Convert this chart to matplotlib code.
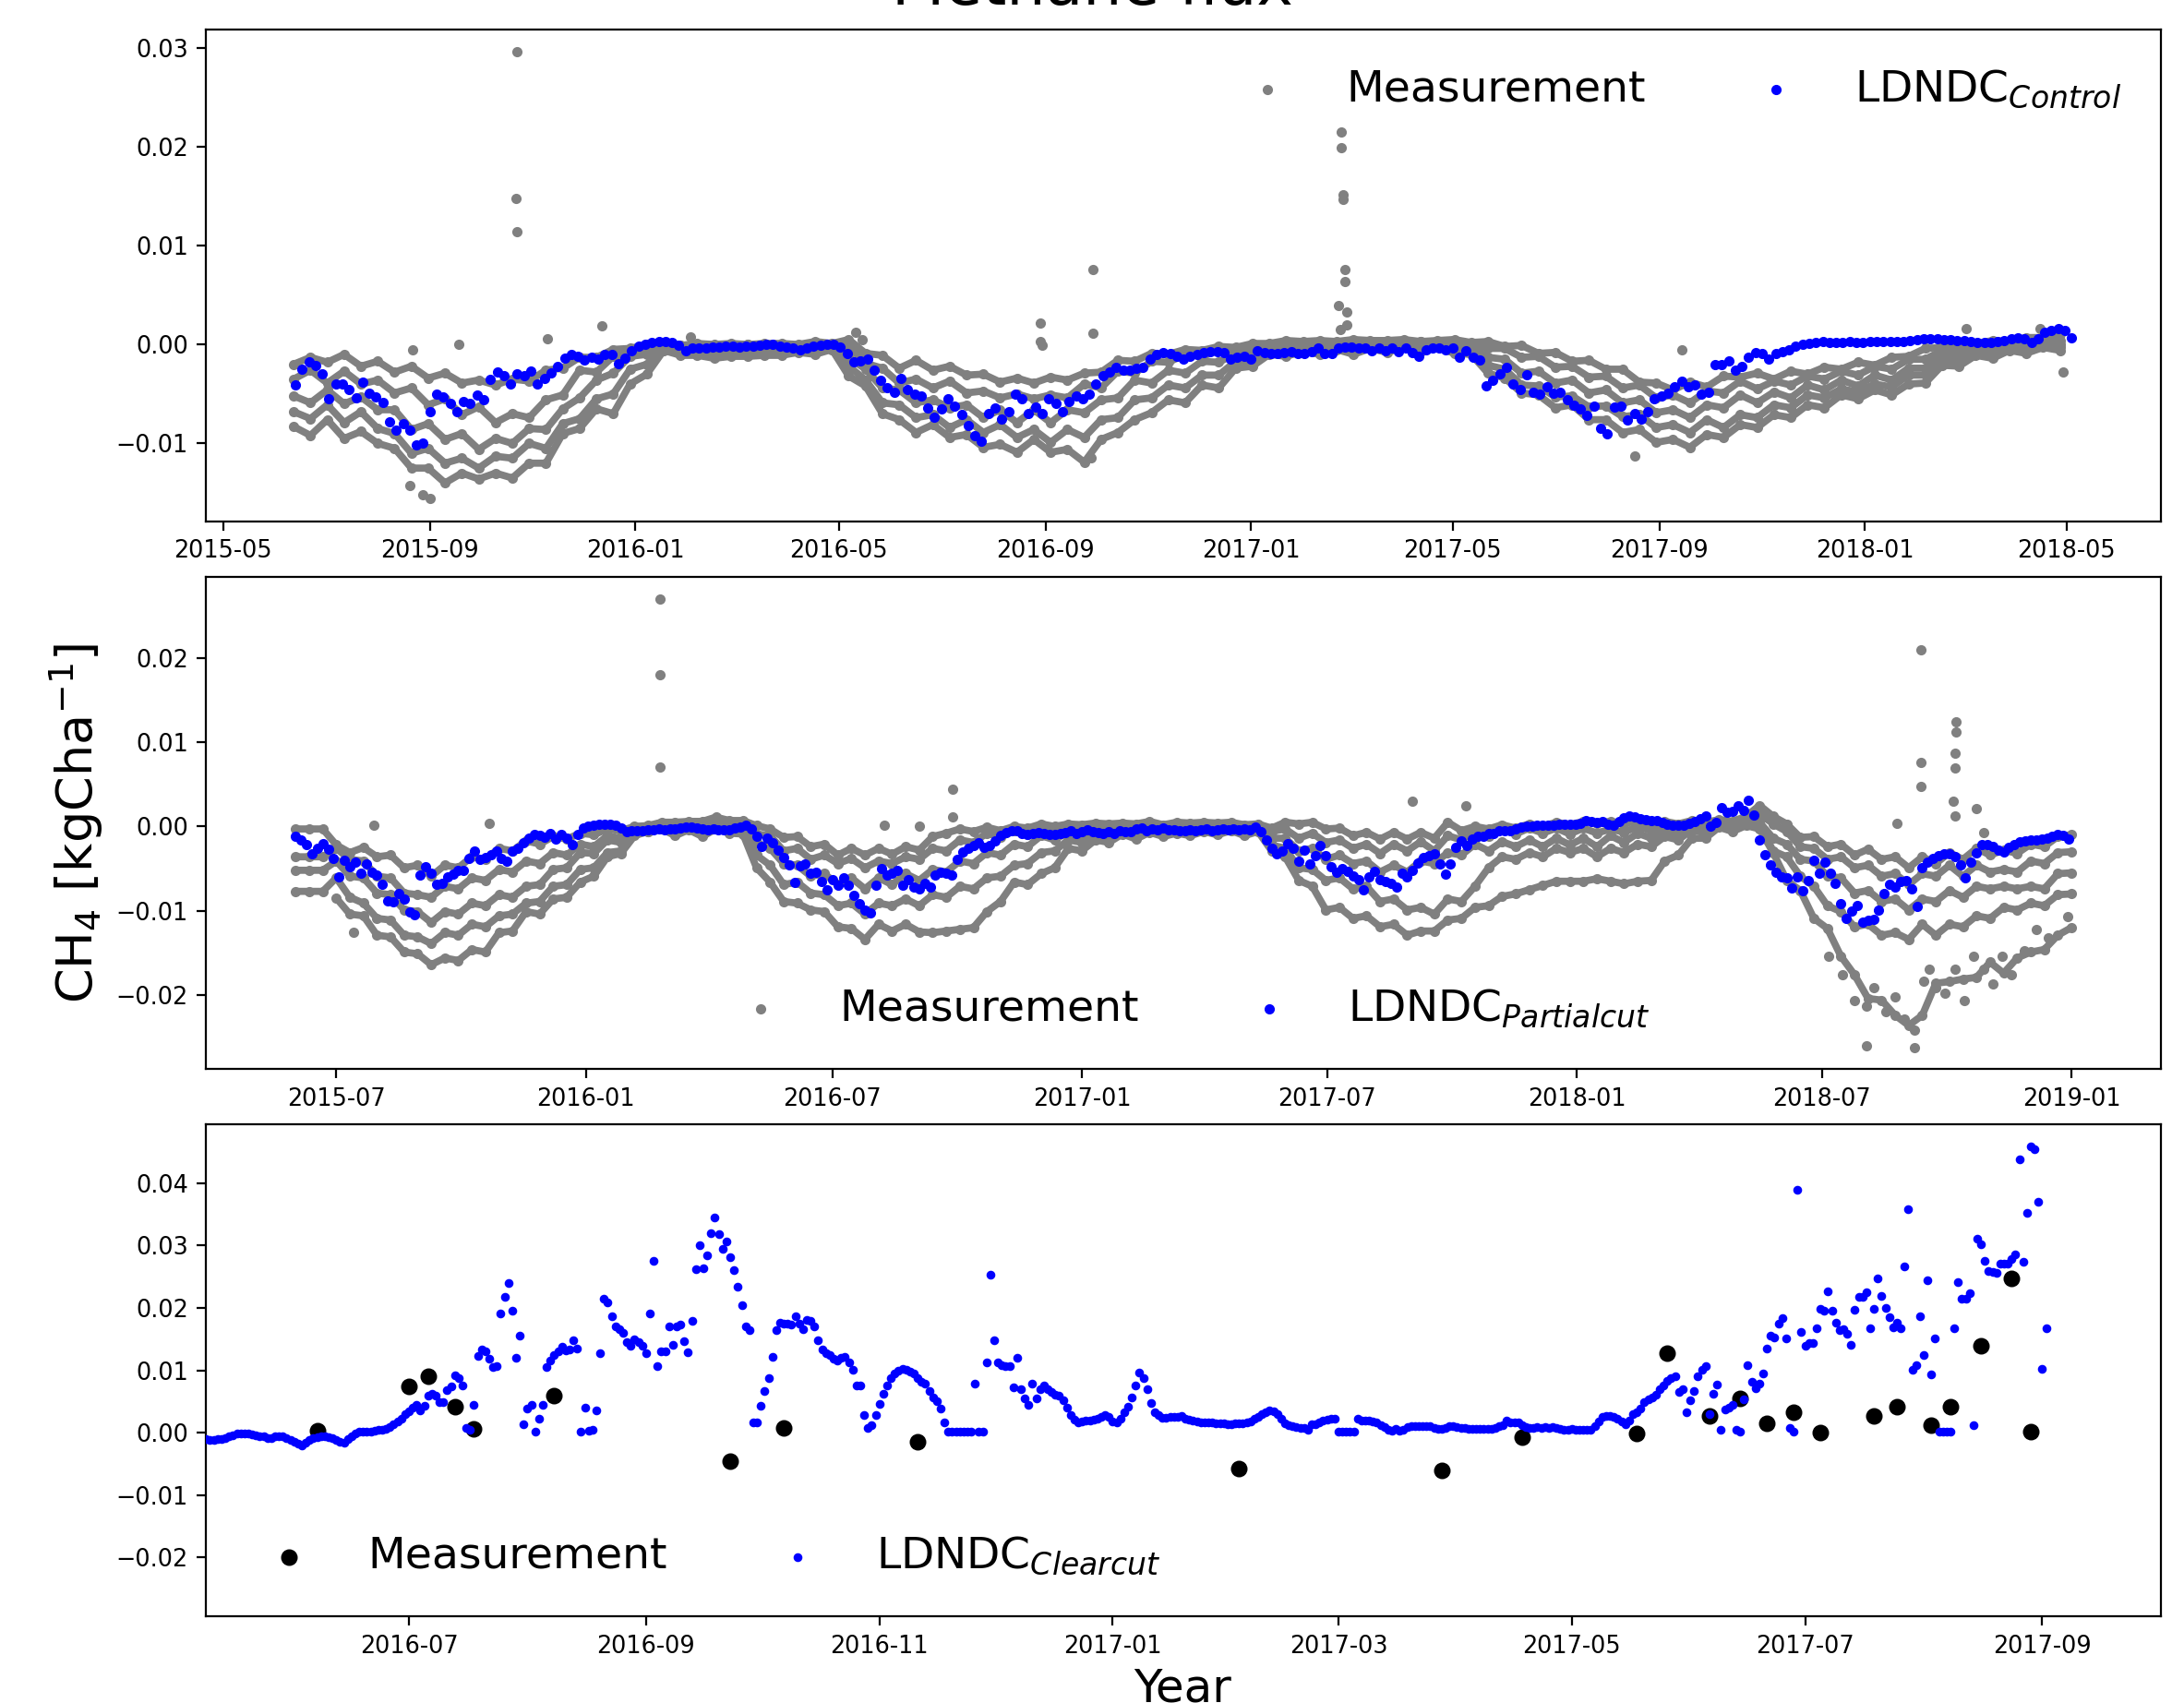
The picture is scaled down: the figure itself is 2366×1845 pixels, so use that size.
import numpy as np
import pandas as pd
import matplotlib
matplotlib.use('Agg')
import matplotlib.pyplot as plt
import matplotlib.dates as mdates
from matplotlib.ticker import MultipleLocator

# all fluxes below are written in g C/ha and drawn in kg C/ha

# ---------------- Control site ----------------
ctrl_model_start = '2015-06-13'   # every 4 days
ctrl_model = [
    -4.1, -2.5, -1.8, -2.1, -3.0, -5.5, -4.0, -4.0, -4.6, -5.4,
    -3.8, -4.9, -5.3, -5.9, -7.8, -8.7, -8.0, -8.7, -10.2, -10.0,
    -6.8, -5.0, -5.3, -6.0, -6.8, -5.8, -6.0, -5.1, -5.6, -3.5,
    -2.8, -3.2, -4.0, -3.0, -3.2, -2.7, -4.0, -3.4, -2.9, -2.2,
    -1.4, -1.0, -1.2, -1.6, -1.3, -1.5, -1.0, -1.0, -1.9, -1.4,
    -0.6, -0.2, 0.0, 0.2, 0.3, 0.3, 0.2, -0.1, -0.6, -0.4,
    -0.4, -0.4, -0.3, -0.3, -0.2, -0.2, -0.3, -0.2, -0.2, -0.1,
    0.0, 0.0, -0.2, -0.3, -0.4, -0.5, -0.4, -0.2, -0.1, 0.0,
    0.0, -0.3, -0.9, -1.8, -1.7, -1.5, -2.6, -3.6, -4.4, -4.8,
    -3.4, -4.6, -5.0, -5.2, -6.4, -7.4, -6.5, -5.5, -6.2, -7.1,
    -8.2, -9.2, -9.8, -7.0, -6.4, -7.5, -6.8, -5.0, -5.5, -7.0,
    -6.3, -7.0, -5.5, -6.0, -6.8, -5.8, -5.2, -5.5, -5.0, -4.0,
    -3.2, -2.8, -2.3, -2.6, -2.6, -2.4, -2.3, -1.5, -1.0, -0.8,
    -0.9, -1.2, -1.5, -1.2, -1.0, -0.8, -0.7, -0.7, -0.8, -1.5,
    -1.3, -1.2, -1.5, -0.6, -0.8, -0.9, -0.9, -0.8, -0.7, -0.9,
    -0.9, -0.7, -0.4, -0.9, -0.9, -0.4, -0.3, -0.3, -0.4, -0.4,
    -0.6, -0.4, -0.6, -0.4, -0.7, -0.4, -0.8, -1.2, -0.5, -0.4,
    -0.4, -0.5, -0.4, -1.3, -0.6, -1.3, -1.6, -4.2, -3.6, -3.0,
    -2.3, -4.0, -4.6, -3.1, -4.8, -5.0, -4.3, -4.9, -4.8, -5.6,
    -6.1, -6.5, -7.2, -6.2, -8.5, -9.0, -6.3, -6.2, -7.6, -7.0,
    -7.5, -6.8, -5.5, -5.2, -4.9, -4.3, -3.7, -4.3, -4.1, -5.0,
    -4.8, -2.0, -2.0, -1.7, -2.6, -2.2, -1.3, -0.8, -0.9, -1.5,
    -0.9, -0.7, -0.5, -0.2, 0.0, 0.1, 0.2, 0.3, 0.2, 0.2,
    0.2, 0.3, 0.2, 0.2, 0.3, 0.3, 0.3, 0.3, 0.3, 0.3,
    0.4, 0.5, 0.6, 0.6, 0.6, 0.5, 0.5, 0.4, 0.4, 0.3,
    0.2, 0.2, 0.2, 0.3, 0.4, 0.6, 0.7, 0.6, 0.2, 0.6,
    1.2, 1.4, 1.6, 1.4, 0.7,
]

# five chambers, one value every 10 days
ctrl_chamber_start = '2015-06-12'
ctrl_ch1 = [
    -2.0, -1.3, -1.8, -1.0, -2.2, -1.7, -2.8, -2.2, -3.4, -2.9,
    -3.9, -3.6, -4.1, -3.5, -3.7, -2.6, -2.4, -1.3, -1.3, -0.5,
    -0.4, 0.0, 0.1, -0.1, 0.1, 0.0, 0.1, 0.0, 0.1, 0.1,
    0.0, 0.3, 0.1, 0.5, -0.9, -1.1, -2.4, -1.6, -2.6, -2.2,
    -3.1, -3.0, -3.8, -3.4, -3.9, -3.3, -3.6, -2.9, -2.8, -1.6,
    -1.7, -0.9, -1.0, -0.5, -0.6, -0.2, -0.3, 0.1, 0.1, 0.4,
    0.3, 0.4, 0.3, 0.5, 0.4, 0.4, 0.5, 0.3, 0.4, 0.5,
    0.2, 0.3, -0.2, -0.1, -0.9, -0.8, -1.7, -1.6, -2.5, -2.5,
    -3.8, -3.9, -4.6, -3.8, -4.3, -3.2, -3.3, -2.9, -3.5, -2.7,
    -3.0, -2.3, -2.5, -1.8, -2.1, -1.3, -1.2, -0.4, -0.3, 0.1,
    0.1, 0.4, 0.3, 0.7, 0.7, 1.0,
]
ctrl_ch2 = [
    -3.5, -2.6, -3.9, -2.7, -4.0, -3.6, -4.9, -4.4, -6.1, -5.5,
    -7.1, -6.3, -7.9, -7.0, -7.4, -5.6, -5.1, -2.6, -2.8, -1.2,
    -1.0, -0.3, -0.3, -0.1, -0.4, -0.1, -0.3, 0.0, -0.3, -0.1,
    -0.3, 0.0, -0.1, -0.2, -1.9, -2.4, -3.9, -3.5, -4.4, -3.7,
    -4.9, -4.7, -5.4, -5.0, -5.5, -5.1, -5.4, -4.0, -4.4, -2.7,
    -2.9, -1.7, -1.8, -1.0, -1.2, -0.6, -0.8, -0.3, -0.5, 0.2,
    0.1, 0.2, 0.1, 0.3, 0.2, 0.3, 0.1, 0.3, 0.1, 0.2,
    0.0, -0.4, -0.4, -1.3, -1.2, -2.3, -2.2, -3.3, -3.2, -4.4,
    -4.1, -5.4, -5.1, -5.9, -4.7, -4.9, -3.7, -4.5, -3.7, -4.1,
    -3.2, -3.5, -2.7, -3.1, -2.2, -2.5, -1.5, -1.5, -0.6, -0.7,
    -0.2, -0.3, 0.1, 0.1, 0.5, 0.4,
]
ctrl_ch3 = [
    -5.2, -5.9, -4.6, -6.0, -5.3, -6.6, -6.6, -8.6, -8.0, -9.6,
    -9.0, -10.6, -9.5, -10.0, -8.5, -8.6, -6.5, -5.4, -3.6, -2.9,
    -1.2, -1.0, -0.3, -0.5, -0.4, -0.6, -0.3, -0.4, -0.3, -0.4,
    -0.2, -0.4, -0.1, -1.3, -2.5, -4.4, -4.6, -5.9, -5.6, -6.4,
    -6.1, -7.4, -6.6, -7.9, -6.6, -7.9, -6.6, -6.9, -5.6, -5.4,
    -3.6, -3.9, -2.6, -2.9, -1.7, -1.8, -0.9, -1.1, -0.4, -0.5,
    -0.1, -0.3, 0.0, -0.3, 0.0, -0.2, 0.1, -0.1, 0.1, -0.2,
    -0.3, -1.3, -1.5, -2.9, -2.7, -3.9, -3.6, -4.9, -4.6, -5.9,
    -5.6, -6.9, -6.6, -7.4, -6.1, -6.4, -5.1, -5.9, -4.8, -5.4,
    -4.1, -4.6, -3.6, -4.2, -3.1, -3.6, -2.4, -2.4, -1.0, -1.3,
    -0.5, -0.7, -0.1, -0.3, 0.1, 0.0,
]
ctrl_ch4 = [
    -6.8, -7.5, -6.1, -7.9, -6.8, -8.5, -9.0, -11.0, -10.5, -12.0,
    -11.5, -12.5, -11.3, -11.5, -10.0, -10.5, -8.0, -7.5, -5.5, -5.0,
    -2.5, -2.0, -0.4, -0.9, -0.7, -1.0, -0.7, -0.8, -0.5, -0.6,
    -0.4, -0.7, -0.3, -2.2, -3.6, -5.9, -6.1, -7.4, -7.1, -8.4,
    -7.6, -8.9, -8.1, -9.4, -8.6, -9.9, -8.6, -9.4, -7.6, -7.4,
    -5.6, -5.4, -4.1, -4.4, -3.1, -3.1, -1.7, -1.6, -0.7, -0.9,
    -0.3, -0.8, -0.2, -0.7, -0.2, -0.5, -0.1, -0.5, 0.0, -0.6,
    -0.7, -2.1, -2.5, -4.1, -4.2, -5.3, -5.2, -6.3, -6.2, -7.3,
    -7.1, -8.4, -8.1, -8.9, -7.6, -8.4, -7.1, -7.4, -6.1, -6.4,
    -5.1, -5.4, -4.5, -4.8, -4.0, -4.3, -3.1, -3.1, -1.5, -1.7,
    -0.8, -1.0, -0.4, -0.6, -0.1, -0.3,
]
ctrl_ch5 = [
    -8.3, -9.2, -7.6, -9.5, -8.8, -10.0, -10.5, -12.5, -12.5, -14.0,
    -13.0, -13.6, -13.0, -13.5, -12.0, -12.0, -9.0, -8.5, -6.5, -7.0,
    -4.0, -3.0, -0.6, -1.1, -1.1, -1.4, -1.2, -1.2, -1.1, -1.1,
    -0.8, -1.0, -0.5, -3.2, -4.2, -7.0, -7.6, -8.9, -8.1, -9.4,
    -9.1, -10.4, -10.1, -10.9, -9.6, -10.9, -10.6, -11.9, -9.6, -8.9,
    -7.6, -6.9, -5.6, -5.9, -4.1, -4.4, -2.4, -2.2, -1.0, -1.2,
    -0.7, -1.0, -0.5, -1.0, -0.4, -0.8, -0.3, -0.7, -0.3, -0.9,
    -1.0, -2.9, -3.4, -4.9, -5.1, -6.4, -6.1, -7.6, -7.6, -8.9,
    -8.6, -9.9, -9.6, -10.4, -9.1, -9.4, -8.1, -8.4, -7.1, -7.4,
    -6.1, -6.4, -5.1, -5.5, -4.6, -5.1, -4.0, -3.9, -2.1, -2.2,
    -1.1, -1.4, -0.6, -0.9, -0.3, -0.6,
]
# single measurements away from the chamber series
ctrl_extra_dates = [
    '2015-08-22', '2015-09-01', '2015-08-28', '2015-08-20', '2015-09-18',
    '2015-10-23', '2015-10-22', '2015-10-23', '2015-11-10', '2015-12-12',
    '2016-02-03', '2016-05-11', '2016-05-15', '2016-08-29', '2016-08-29',
    '2016-08-30', '2016-09-29', '2016-09-29', '2016-09-28', '2017-02-22',
    '2017-02-23', '2017-02-24', '2017-02-24', '2017-02-25', '2017-02-25',
    '2017-02-26', '2017-02-26', '2017-02-27', '2017-02-27', '2017-09-14',
    '2017-08-17', '2018-03-02', '2018-04-15', '2018-04-29',
]
ctrl_extra = [
    -0.5, -15.6, -15.2, -14.3, 0.0,
    29.6, 14.8, 11.4, 0.6, 1.9,
    0.8, 1.2, 0.5, 2.2, 0.3,
    -0.1, 7.6, 1.1, -11.5, 3.9,
    1.5, 21.5, 19.9, 15.1, 14.7,
    7.6, 6.4, 3.3, 2.0, -0.5,
    -11.3, 1.6, 1.6, -2.8,
]

# ---------------- Partial cut site ----------------
part_model_start = '2015-06-01'   # every 4 days
part_model = [
    -1.2, -1.6, -2.2, -3.3, -2.6, -2.0, -2.7, -3.8, -6.0, -4.0,
    -4.8, -4.2, -5.5, -4.5, -5.4, -5.8, -6.9, -8.8, -8.9, -7.9,
    -8.6, -10.1, -10.5, -5.8, -4.8, -5.6, -6.9, -6.8, -6.0, -5.7,
    -5.2, -5.2, -3.8, -2.9, -3.9, -3.7, -3.4, -2.9, -3.8, -4.1,
    -2.9, -2.6, -1.9, -1.4, -1.0, -1.1, -1.3, -0.8, -1.5, -1.0,
    -1.4, -2.1, -1.0, -0.2, 0.0, 0.2, 0.3, 0.3, 0.3, 0.2,
    -0.2, -0.6, -0.5, -0.5, -0.5, -0.4, -0.4, -0.3, -0.4, -0.3,
    -0.3, -0.2, -0.1, -0.1, -0.2, -0.3, -0.4, -0.3, -0.4, -0.4,
    -0.4, -0.2, -0.1, 0.2, -0.3, -1.2, -2.4, -1.4, -1.9, -2.8,
    -3.7, -4.6, -6.6, -4.7, -4.4, -5.6, -5.4, -6.5, -7.5, -6.3,
    -7.0, -6.1, -7.0, -8.2, -9.2, -9.9, -10.2, -7.0, -5.0, -5.8,
    -5.5, -5.2, -7.0, -6.3, -7.2, -7.4, -6.7, -7.2, -5.8, -5.4,
    -5.6, -5.8, -3.9, -3.0, -2.6, -2.3, -1.9, -2.5, -2.3, -1.7,
    -1.1, -0.7, -0.5, -0.5, -0.8, -1.0, -0.8, -0.7, -0.8, -0.9,
    -1.0, -0.8, -0.7, -0.5, -0.8, -0.6, -0.4, -0.6, -0.7, -0.8,
    -0.6, -0.8, -0.5, -0.6, -0.6, -0.3, -0.2, -0.5, -0.3, -0.4,
    -0.2, -0.4, -0.4, -0.5, -0.5, -0.4, -0.5, -0.4, -0.3, -0.5,
    -0.4, -0.3, -0.4, -0.3, -0.4, -0.3, -0.4, -0.1, -0.6, -1.6,
    -2.6, -3.2, -2.9, -2.0, -2.6, -4.1, -2.8, -4.4, -3.5, -2.3,
    -3.5, -4.8, -5.4, -5.0, -5.3, -5.9, -6.3, -7.5, -6.0, -5.3,
    -6.3, -6.5, -6.7, -7.2, -5.6, -6.0, -5.2, -4.3, -3.7, -3.5,
    -3.3, -4.5, -5.7, -4.4, -2.5, -1.7, -2.3, -1.5, -1.2, -1.2,
    -0.8, -0.8, -0.5, -0.5, -0.5, -0.3, -0.1, 0.0, 0.0, 0.1,
    0.1, 0.2, 0.2, 0.3, 0.3, 0.3, 0.3, 0.4, 0.7, 0.6,
    0.5, 0.6, 0.3, 0.2, 0.6, 1.0, 1.2, 1.1, 0.9, 0.8,
    0.7, 0.7, 0.5, 0.3, 0.2, 0.1, 0.2, 0.4, 0.6, 0.9,
    1.2, 0.0, 0.5, 2.2, 1.7, 1.8, 2.4, 1.9, 3.1, 1.4,
    -1.6, -3.4, -4.6, -5.4, -6.0, -6.1, -7.3, -6.0, -7.6, -6.4,
    -4.0, -5.6, -4.2, -5.6, -6.7, -9.2, -10.9, -10.0, -9.4, -11.4,
    -11.1, -11.0, -9.9, -7.9, -6.9, -7.2, -6.5, -6.4, -7.4, -9.5,
    -4.9, -4.2, -3.8, -3.5, -3.3, -3.2, -3.6, -4.6, -6.1, -4.2,
    -3.1, -2.1, -2.2, -2.4, -2.8, -3.0, -2.5, -2.1, -1.8, -1.7,
    -1.6, -1.6, -1.5, -1.4, -1.2, -1.0, -1.1, -1.5,
]

part_chamber_start = '2015-06-01'   # every 10 days
part_ch1 = [
    -0.3, -0.3, -0.3, -2.2, -3.1, -2.5, -3.6, -3.4, -4.9, -4.6,
    -5.9, -4.6, -4.9, -3.6, -3.9, -2.6, -2.9, -1.7, -2.1, -1.2,
    -1.5, -0.8, -1.0, -0.3, -0.5, 0.0, 0.1, 0.5, 0.5, 0.6,
    0.6, 1.1, 0.7, 0.7, 0.1, -0.3, -1.3, -1.2, -2.4, -2.1,
    -3.4, -2.6, -3.4, -2.6, -3.3, -2.4, -2.8, -1.2, -0.8, -0.3,
    -0.6, -0.1, -0.5, 0.0, -0.2, 0.3, 0.0, 0.3, 0.2, 0.4,
    0.3, 0.4, 0.3, 0.6, 0.2, 0.5, 0.4, 0.5, 0.4, 0.5,
    0.2, 0.3, -0.2, 0.5, 0.3, 0.5, -0.3, -0.2, -1.1, -0.7,
    -1.5, -0.7, -1.5, -0.7, -1.4, 0.5, -0.5, 0.0, -0.3, 0.2,
    -0.2, 0.3, 0.0, 0.5, 0.2, 0.6, 0.4, 0.6, 0.3, 0.7,
    0.3, 0.6, 0.3, 0.7, 0.5, 0.8, 0.6, 1.2, 2.5, 1.2,
    0.3, -1.3, -1.2, -2.4, -2.1, -3.4, -2.7, -3.9, -3.6, -4.9,
    -3.6, -4.4, -3.1, -3.9, -2.6, -3.4, -2.8, -3.2, -2.1, -2.4,
    -1.2, -1.0,
]
part_ch2 = [
    -3.6, -3.6, -3.6, -2.6, -3.9, -4.1, -5.9, -6.1, -7.9, -8.1,
    -8.4, -7.1, -7.4, -6.1, -6.4, -5.1, -5.4, -4.1, -4.4, -3.1,
    -3.4, -2.1, -2.4, -1.1, -1.4, -0.2, -0.2, 0.3, 0.0, 0.5,
    0.2, 0.7, 0.2, 0.5, -0.9, -1.1, -2.9, -2.6, -3.9, -3.4,
    -4.4, -3.8, -4.9, -4.1, -4.4, -3.6, -3.9, -2.6, -2.9, -1.6,
    -1.9, -0.8, -1.3, -0.5, -0.9, -0.2, -0.8, -0.1, -0.6, 0.1,
    -0.3, 0.1, -0.2, 0.2, -0.2, 0.2, -0.1, 0.3, 0.0, 0.3,
    -0.1, 0.2, -0.6, -0.3, -1.4, -0.8, -1.9, -1.6, -2.6, -2.1,
    -3.2, -2.1, -2.9, -1.8, -2.9, -1.1, -1.6, -0.6, -1.2, -0.3,
    -0.9, -0.2, -0.8, -0.2, -0.9, -0.2, -0.8, -0.3, -0.7, 0.0,
    -0.5, 0.1, -0.3, 0.3, -0.1, 0.4, 0.1, 0.7, 1.5, 0.3,
    -0.6, -2.4, -2.6, -3.9, -3.6, -4.9, -4.6, -5.9, -5.6, -6.9,
    -5.6, -5.9, -4.6, -5.9, -4.6, -5.4, -5.1, -5.4, -4.1, -4.4,
    -3.1, -3.0,
]
part_ch3 = [
    -5.2, -5.2, -5.2, -4.1, -5.9, -6.1, -7.9, -8.1, -9.9, -10.1,
    -11.4, -10.1, -10.4, -9.1, -9.4, -8.1, -8.4, -7.1, -6.9, -5.1,
    -4.9, -3.1, -3.2, -1.6, -1.9, -0.5, -0.5, 0.2, -0.2, 0.3,
    -0.1, 0.4, -0.1, 0.2, -1.9, -2.6, -4.4, -4.6, -5.9, -5.6,
    -6.9, -6.1, -7.4, -6.1, -6.9, -5.6, -6.4, -5.1, -5.4, -4.1,
    -4.4, -3.1, -3.4, -2.1, -2.4, -1.1, -1.6, -0.6, -1.2, -0.3,
    -0.8, -0.2, -0.7, -0.1, -0.6, 0.0, -0.5, 0.1, -0.4, 0.1,
    -0.5, 0.0, -1.4, -1.4, -2.9, -2.6, -3.9, -3.4, -4.4, -4.1,
    -5.4, -4.6, -5.4, -4.1, -4.4, -3.1, -3.4, -2.1, -2.9, -1.8,
    -2.4, -1.6, -2.4, -1.4, -2.2, -1.4, -2.4, -1.1, -1.9, -0.8,
    -1.4, -0.4, -1.0, 0.0, -0.6, 0.4, -0.3, 0.6, 0.5, -1.4,
    -2.1, -3.9, -4.1, -5.9, -6.1, -7.9, -7.6, -8.9, -8.6, -9.9,
    -8.6, -8.9, -7.6, -8.4, -7.1, -7.4, -7.1, -7.4, -7.1, -7.4,
    -5.6, -5.5,
]
part_ch4 = [
    -7.7, -7.7, -7.7, -6.1, -8.4, -9.1, -10.9, -11.1, -12.9, -13.1,
    -13.9, -12.6, -12.9, -11.6, -11.9, -10.6, -10.4, -9.1, -8.9, -7.1,
    -6.9, -5.1, -4.9, -3.1, -2.9, -0.9, -0.6, 0.0, -0.6, 0.1,
    -0.6, 0.1, -0.5, -0.5, -3.4, -4.6, -6.9, -6.6, -7.9, -8.1,
    -9.4, -9.1, -10.4, -9.1, -9.4, -8.6, -9.4, -8.1, -8.4, -7.1,
    -7.4, -6.1, -5.9, -4.6, -4.4, -3.1, -2.9, -1.6, -1.9, -0.9,
    -1.4, -0.5, -1.1, -0.5, -0.9, -0.4, -0.8, -0.2, -0.7, -0.1,
    -0.8, -0.3, -2.2, -2.6, -4.9, -5.1, -6.4, -6.1, -7.4, -7.1,
    -8.9, -8.6, -9.9, -9.6, -10.4, -8.6, -8.9, -7.1, -4.9, -3.6,
    -3.9, -3.1, -3.6, -2.6, -3.1, -2.6, -3.6, -2.6, -3.1, -2.1,
    -2.4, -1.2, -1.6, -0.4, -0.8, 0.2, -0.3, 0.4, 0.2, -2.9,
    -3.6, -5.9, -7.1, -9.4, -10.1, -11.9, -11.6, -12.9, -12.6, -13.4,
    -11.6, -12.9, -11.6, -11.9, -10.6, -10.9, -9.6, -9.9, -9.1, -9.4,
    -8.1, -8.0,
]
part_ch5 = [
    np.nan, np.nan, np.nan, -8.5, -10.4, -10.6, -12.9, -13.1, -14.9, -15.1,
    -16.4, -15.6, -15.9, -14.6, -14.9, -12.6, -12.4, -10.1, -10.4, -8.6,
    -8.4, -6.6, -5.9, -3.6, -3.2, -1.1, -0.6, -0.3, -1.1, -0.4,
    -1.2, -0.3, -0.8, -0.9, -4.9, -6.6, -8.9, -9.1, -9.9, -10.1,
    -11.9, -12.1, -13.4, -11.6, -12.4, -11.6, -12.5, -12.6, -12.4, -12.2,
    -12.0, -10.1, -8.9, -6.6, -6.9, -5.6, -4.9, -2.6, -2.9, -1.6,
    -1.9, -0.9, -1.5, -0.7, -1.2, -0.8, -1.1, -0.6, -1.0, -0.5,
    -1.1, -0.6, -2.9, -3.6, -6.4, -7.1, -9.9, -9.6, -10.9, -10.6,
    -11.9, -11.6, -12.9, -12.4, -12.4, -11.1, -10.9, -9.6, -9.4, -8.3,
    -8.0, -7.5, -7.0, -6.5, -6.5, -6.5, -6.2, -6.5, -6.8, -6.5,
    -6.4, -4.1, -3.4, -1.4, -1.4, -0.1, -0.6, 0.1, -0.3, -3.1,
    -6.4, -7.6, -10.9, -12.1, -15.4, -17.6, -20.4, -20.6, -22.4, -23.6,
    -22.4, -18.6, -18.4, -18.1, -17.9, -16.1, -17.4, -15.6, -14.9, -14.6,
    -12.9, -12.0,
]
part_extra_dates = [
    '2015-07-29', '2015-10-22', '2015-07-14', '2016-02-25', '2016-02-25',
    '2016-02-25', '2016-08-08', '2016-09-03', '2016-09-28', '2016-09-28',
    '2017-09-02', '2017-10-11', '2018-08-25', '2018-09-12', '2018-09-12',
    '2018-09-12', '2018-10-08', '2018-10-08', '2018-10-07', '2018-10-07',
    '2018-10-06', '2018-10-07', '2018-10-23', '2018-10-28', '2018-08-03',
    '2018-09-07', '2018-07-06', '2018-07-16', '2018-07-25', '2018-08-03',
    '2018-08-08', '2018-08-17', '2018-08-24', '2018-08-31', '2018-09-07',
    '2018-09-14', '2018-09-18', '2018-09-23', '2018-09-30', '2018-10-07',
    '2018-10-14', '2018-10-21', '2018-10-28', '2018-11-04', '2018-11-11',
    '2018-11-18', '2018-11-27', '2018-12-06', '2018-12-15', '2018-12-29',
]
part_extra = [
    0.1, 0.35, -12.5, 27.0, 18.0,
    7.0, 0.1, 0.0, 4.4, 1.1,
    3.0, 2.5, 0.4, 20.9, 7.6,
    4.7, 12.4, 11.2, 8.7, 6.9,
    3.0, 1.2, 2.1, -0.7, -26.0,
    -26.2, -15.4, -17.6, -20.6, -21.3,
    -19.1, -22.0, -20.2, -22.8, -24.2,
    -18.4, -16.9, -19.1, -19.8, -16.9,
    -20.6, -15.4, -16.9, -18.7, -15.4,
    -17.6, -14.7, -12.2, -13.2, -10.7,
]

# ---------------- Clear cut site ----------------
clear_model_start = '2016-05-09'   # daily
clear_model = [
    -1.0, -1.1, -1.1, -1.0, -1.0, -0.8, -0.6, -0.4, -0.2, -0.1,
    -0.1, -0.2, -0.3, -0.4, -0.5, -0.6, -0.8, -0.8, -0.6, -0.5,
    -0.6, -0.9, -1.2, -1.5, -1.8, -2.1, -1.6, -1.2, -0.9, -0.7,
    -0.6, -0.5, -0.7, -0.9, -1.1, -1.4, -1.6, -1.0, -0.6, -0.2,
    0.1, 0.2, 0.2, 0.2, 0.3, 0.4, 0.5, 0.6, 0.9, 1.3,
    1.8, 2.3, 3.0, 3.4, 4.0, 4.5, 3.6, 4.3, 5.9, 6.2,
    6.0, 4.9, 4.9, 6.8, 7.4, 9.2, 8.7, 7.6, 0.7, 0.4,
    4.5, 12.3, 13.3, 13.0, 11.8, 10.5, 10.7, 19.1, 21.7, 24.0,
    19.5, 12.0, 15.5, 1.4, 3.9, 4.5, 0.1, 2.2, 4.5, 10.5,
    11.6, 12.5, 13.0, 13.8, 13.2, 13.4, 14.8, 13.5, 0.2, 4.0,
    0.3, 0.4, 3.6, 12.8, 21.5, 20.9, 18.6, 17.1, 16.6, 16.0,
    14.5, 14.0, 14.9, 14.5, 13.9, 12.8, 19.1, 27.5, 10.7, 13.0,
    13.0, 17.1, 14.1, 17.0, 17.3, 14.6, 12.9, 17.9, 26.2, 30.1,
    26.4, 28.4, 32.0, 34.5, 31.8, 29.4, 30.6, 28.1, 26.1, 23.4,
    20.5, 17.1, 16.4, 1.7, 1.6, 4.3, 6.7, 8.7, 12.2, 16.4,
    17.6, 17.5, 17.5, 17.4, 18.6, 17.5, 16.6, 18.1, 17.9, 17.1,
    14.8, 13.4, 12.8, 12.4, 11.8, 11.6, 12.0, 12.1, 11.3, 10.1,
    7.6, 7.6, 2.8, 0.8, 1.2, 2.8, 4.6, 6.2, 7.6, 8.7,
    9.5, 10.0, 10.2, 10.1, 9.8, 9.5, 8.8, 8.2, 7.9, 6.7,
    5.6, 5.0, 3.9, 1.6, 0.1, 0.1, 0.1, 0.1, 0.1, 0.1,
    0.1, 7.8, 0.1, 0.1, 11.2, 25.3, 14.8, 11.3, 10.8, 10.6,
    10.6, 7.2, 12.0, 6.9, 5.5, 4.5, 7.8, 5.5, 7.0, 7.5,
    6.9, 6.5, 6.1, 6.0, 5.2, 4.0, 2.9, 2.1, 1.7, 1.8,
    1.9, 2.0, 2.1, 2.2, 2.5, 2.9, 2.5, 1.8, 1.6, 2.2,
    3.3, 4.2, 5.6, 7.6, 9.6, 8.8, 6.9, 4.7, 3.3, 2.8,
    2.4, 2.4, 2.5, 2.5, 2.6, 2.7, 2.3, 2.1, 2.0, 1.8,
    1.7, 1.7, 1.6, 1.6, 1.5, 1.5, 1.5, 1.4, 1.4, 1.5,
    1.5, 1.5, 1.6, 1.8, 2.2, 2.6, 3.0, 3.3, 3.5, 3.4,
    3.0, 2.2, 1.5, 1.2, 1.0, 0.9, 0.8, 0.7, 0.5, 1.3,
    1.3, 1.6, 1.9, 2.1, 2.2, 2.3, 0.1, 0.1, 0.1, 0.1,
    0.1, 2.2, 1.9, 1.9, 1.9, 1.8, 1.6, 1.2, 0.9, 0.4,
    0.3, 0.6, 0.3, 0.4, 0.9, 1.0, 1.0, 1.0, 1.1, 1.1,
    1.0, 0.8, 0.6, 0.6, 0.8, 1.0, 1.0, 0.9, 0.8, 0.7,
    0.6, 0.6, 0.6, 0.6, 0.6, 0.6, 0.6, 0.7, 1.0, 1.2,
    2.0, 1.6, 1.6, 1.6, 1.2, 0.9, 0.8, 0.8, 0.9, 0.8,
    0.9, 0.8, 0.9, 0.8, 0.6, 0.5, 0.5, 0.6, 0.5, 0.5,
    0.5, 0.5, 0.5, 1.0, 1.8, 2.6, 2.7, 2.7, 2.5, 2.2,
    1.8, 1.3, 2.0, 3.0, 3.2, 3.9, 4.9, 5.4, 5.7, 6.1,
    6.9, 7.6, 8.3, 8.7, 9.1, 6.5, 6.9, 3.2, 5.2, 6.7,
    9.1, 10.1, 10.6, 3.0, 6.2, 7.7, 0.4, 3.7, 4.0, 4.5,
    0.4, 0.2, 5.4, 10.8, 8.1, 7.1, 7.8, 9.5, 13.5, 15.5,
    15.3, 17.5, 18.4, 15.1, 0.7, 0.2, 39.0, 16.2, 13.9, 14.4,
    14.4, 16.7, 19.9, 19.6, 22.7, 19.5, 17.7, 16.5, 16.6, 15.8,
    14.1, 19.7, 21.7, 21.8, 22.5, 16.7, 19.8, 24.8, 21.9, 20.0,
    18.5, 16.9, 17.7, 16.7, 26.6, 35.9, 10.1, 10.8, 18.7, 12.5,
    24.5, 9.3, 15.1, 0.1, 0.1, 0.1, 0.1, 16.7, 24.1, 21.5,
    21.5, 22.3, 1.2, 31.1, 30.2, 27.6, 25.9, 25.8, 25.6, 27.1,
    27.1, 27.1, 27.8, 28.6, 43.8, 27.4, 35.3, 45.9, 45.4, 37.0,
    10.3, 16.7,
]
clear_meas_dates = [
    '2016-06-07', '2016-07-01', '2016-07-06', '2016-07-13', '2016-07-18',
    '2016-08-08', '2016-09-23', '2016-10-07', '2016-11-11', '2017-02-03',
    '2017-03-28', '2017-04-18', '2017-05-18', '2017-05-26', '2017-06-06',
    '2017-06-14', '2017-06-21', '2017-06-28', '2017-07-05', '2017-07-19',
    '2017-07-25', '2017-08-03', '2017-08-08', '2017-08-16', '2017-08-24',
    '2017-08-29',
]
clear_meas = [
    0.3, 7.4, 9.0, 4.1, 0.6,
    5.9, -4.5, 0.7, -1.5, -5.8,
    -6.0, -0.7, -0.2, 12.8, 2.7,
    5.5, 1.5, 3.2, 0.0, 2.7,
    4.2, 1.2, 4.2, 14.0, 24.8,
    0.2,
]


def to_kg(vals):
    return np.asarray(vals, dtype=float) / 1000.0


def series_dates(start, n, step):
    return pd.date_range(start, periods=n, freq=step)


def draw_site(ax, ch_start, chambers, extra_dates, extra, model_start, model, label):
    meas = ax.scatter(pd.to_datetime(extra_dates), to_kg(extra), s=9, color='grey',
                      zorder=2, label='Measurement')
    ch_dates = series_dates(ch_start, len(chambers[0]), '10D')
    for ch in chambers:
        ax.plot(ch_dates, to_kg(ch), color='grey', lw=2.8, marker='o', ms=3.0,
                solid_capstyle='round', solid_joinstyle='round', zorder=1)
    mod = ax.scatter(series_dates(model_start, len(model), '4D'), to_kg(model), s=9,
                     color='blue', zorder=3, label=label)
    return meas, mod


plt.rcParams['font.family'] = 'DejaVu Sans'
fig, axes = plt.subplots(3, 1, figsize=(11.83, 9.225), dpi=200)
fig.subplots_adjust(left=0.0944, right=0.9894, top=0.9829, bottom=0.0507, hspace=0.113)
ax1, ax2, ax3 = axes

# control
h1 = draw_site(ax1, ctrl_chamber_start, [ctrl_ch1, ctrl_ch2, ctrl_ch3, ctrl_ch4, ctrl_ch5],
               ctrl_extra_dates, ctrl_extra, ctrl_model_start, ctrl_model, r'LDNDC$_{Control}$')
ax1.set_xlim(pd.Timestamp('2015-04-21'), pd.Timestamp('2018-06-26'))
ax1.set_ylim(-0.01787, 0.03188)
ax1.xaxis.set_major_locator(mdates.MonthLocator(bymonth=[1, 5, 9]))
ax1.legend(handles=list(h1), loc='upper right', fontsize=17, frameon=False, ncol=2)

# partial cut
h2 = draw_site(ax2, part_chamber_start, [part_ch1, part_ch2, part_ch3, part_ch4, part_ch5],
               part_extra_dates, part_extra, part_model_start, part_model, r'LDNDC$_{Partialcut}$')
ax2.set_xlim(pd.Timestamp('2015-03-27'), pd.Timestamp('2019-03-08'))
ax2.set_ylim(-0.02876, 0.0296)
ax2.xaxis.set_major_locator(mdates.MonthLocator(bymonth=[1, 7]))
ax2.legend(handles=list(h2), loc='lower center', fontsize=17, frameon=False, ncol=2)

# clear cut
m3 = ax3.scatter(pd.to_datetime(clear_meas_dates), to_kg(clear_meas), s=30, color='black',
                 zorder=2, label='Measurement')
b3 = ax3.scatter(series_dates(clear_model_start, len(clear_model), 'D'), to_kg(clear_model),
                 s=6, color='blue', zorder=3, label=r'LDNDC$_{Clearcut}$')
ax3.set_xlim(pd.Timestamp('2016-05-09'), pd.Timestamp('2017-10-02'))
ax3.set_ylim(-0.0295, 0.0494)
ax3.xaxis.set_major_locator(mdates.MonthLocator(bymonth=[1, 3, 5, 7, 9, 11]))
ax3.legend(handles=[m3, b3], loc='lower left', fontsize=17, frameon=False, ncol=2)

for ax in axes:
    ax.xaxis.set_major_formatter(mdates.DateFormatter('%Y-%m'))
    ax.yaxis.set_major_locator(MultipleLocator(0.01))
    ax.tick_params(labelsize=9.2)

fig.text(0.5, 0.9973, 'Methane flux', ha='center', va='baseline', fontsize=24)
fig.text(0.0427, 0.5168, r'CH$_4$ [kgCha$^{-1}$]', rotation=90, rotation_mode='anchor',
         ha='center', va='baseline', fontsize=19.5)
fig.text(0.5415, 0.001, 'Year', ha='center', va='baseline', fontsize=18)

fig.savefig('out.png', dpi=200)
